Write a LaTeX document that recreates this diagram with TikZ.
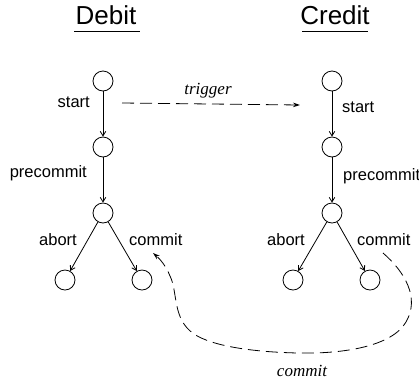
\documentclass[tikz,border=0pt]{standalone}
\usepackage{fontspec}
\setmainfont{Liberation Sans}
\newfontfamily\msgfont{Liberation Serif}
\usetikzlibrary{arrows.meta}
\begin{document}
\begin{tikzpicture}[x=1pt,y=-1pt,
  state/.style={circle,draw,line width=0.8pt,minimum size=20pt,inner sep=0pt},
  edge/.style={line width=0.8pt,-{Straight Barb[length=4.5pt,width=5.5pt]}},
  msg/.style={line width=0.8pt,dash pattern=on 12pt off 6pt,-{Stealth[length=7pt,width=4.5pt]}},
  lbl/.style={inner sep=0pt,font=\fontsize{16.5}{18}\selectfont},
  msglbl/.style={inner sep=0pt,font=\msgfont\itshape\fontsize{17}{19}\selectfont},
  title/.style={inner sep=0pt,font=\fontsize{26}{28}\selectfont}]
\useasboundingbox (0,0) rectangle (419,381);

% titles
\node[title] (tdeb) at (106,15) {Debit};
\node[title] (tcred) at (335,15) {Credit};
\draw[line width=0.8pt] (74,31) -- (140,31);
\draw[line width=0.8pt] (302,31) -- (368,31);

% Debit states
\node[state] (d1) at (103,81) {};
\node[state] (d2) at (103,147) {};
\node[state] (d3) at (103,213) {};
\node[state] (d4) at (65,280) {};
\node[state] (d5) at (142,280) {};
\draw[edge] (d1) -- (d2);
\draw[edge] (d2) -- (d3);
\draw[edge] (d3) -- (d4);
\draw[edge] (d3) -- (d5);
\node[lbl,anchor=east] (ds) at (90,102) {start};
\node[lbl,anchor=east] (dp) at (87,173) {precommit};
\node[lbl,anchor=east] (da) at (77,240) {abort};
\node[lbl,anchor=west] (dc) at (129,240) {commit};

% Credit states
\node[state] (c1) at (332,81) {};
\node[state] (c2) at (332,147) {};
\node[state] (c3) at (332,213) {};
\node[state] (c4) at (293,280) {};
\node[state] (c5) at (370,280) {};
\draw[edge] (c1) -- (c2);
\draw[edge] (c2) -- (c3);
\draw[edge] (c3) -- (c4);
\draw[edge] (c3) -- (c5);
\node[lbl,anchor=west] (cs) at (342,107) {start};
\node[lbl,anchor=west] (cp) at (343,176) {precommit};
\node[lbl,anchor=east] (ca) at (305,240) {abort};
\node[lbl,anchor=west] (cc) at (357,240) {commit};

% trigger message
\coordinate (tA) at (122,103);
\coordinate (tB) at (300,105);
\draw[msg] (tA) -- (tB);
\node[msglbl] (trig) at (208,91) {trigger};

% commit message
\coordinate (mA) at (383,253);
\coordinate (mB) at (153,253);
\draw[msg] (mA) .. controls (405,272) and (420,298) .. (406,322)
  .. controls (392,346) and (345,354) .. (298,353)
  .. controls (252,352) and (212,346) .. (194,334)
  .. controls (172,319) and (178,292) .. (170,276)
  .. controls (166,266) and (160,259) .. (mB);
\node[msglbl] (com) at (302,371) {commit};
\end{tikzpicture}
\end{document}
